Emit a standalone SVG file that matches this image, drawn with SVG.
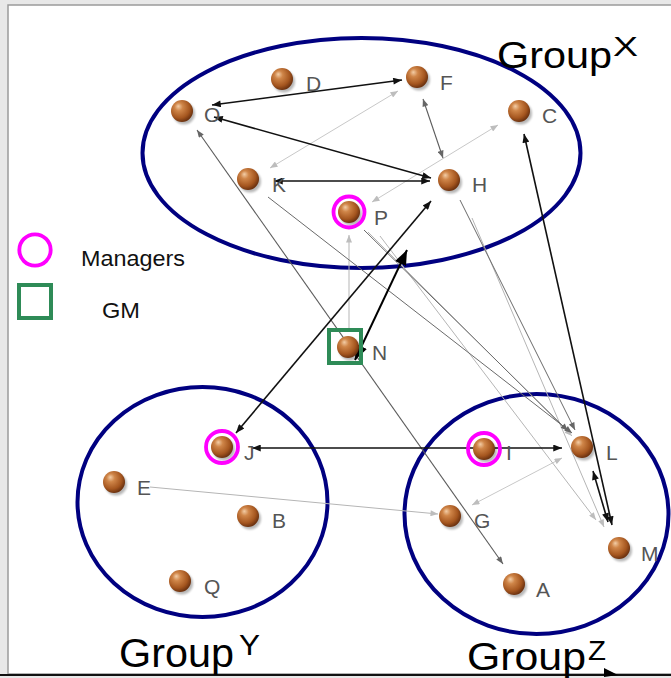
<svg xmlns="http://www.w3.org/2000/svg" xmlns:xlink="http://www.w3.org/1999/xlink" width="671" height="678" viewBox="0 0 671 678">
  <style>
    .lbl { font-family: "Liberation Sans", Arial, sans-serif; font-size: 21px; fill: #555; }
    .grp { font-family: "Liberation Sans", Arial, sans-serif; fill: #000; }
    .leg { font-family: "Liberation Sans", Arial, sans-serif; font-size: 22px; fill: #111; }
    .hull { fill: none; stroke: #000080; stroke-width: 4; }
    .mgr { fill: none; stroke: #ff00ff; stroke-width: 3.8; }
    .gm { fill: none; stroke: #2e8b57; stroke-width: 4; }
    .blk { stroke: #111; stroke-width: 1.6; fill: none; marker-start: url(#ahK); marker-end: url(#ahK); }
    .big { stroke: #000; stroke-width: 2; fill: none; marker-start: url(#ahB); marker-end: url(#ahB); }
    .dg { stroke: #5c5c5c; stroke-width: 1.1; fill: none; marker-start: url(#ahG); marker-end: url(#ahG); }
    .dg1 { stroke: #6a6a6a; stroke-width: 1; fill: none; marker-end: url(#ahG); }
    .lg { stroke: #b5b5b5; stroke-width: 1; fill: none; marker-end: url(#ahL); }
    .lg2 { stroke: #c8c8c8; stroke-width: 1; fill: none; marker-start: url(#ahL); marker-end: url(#ahL); }
  </style>
  <defs>
    <radialGradient id="ballFill" cx="0.4" cy="0.38" r="0.62" fx="0.33" fy="0.28">
      <stop offset="0" stop-color="#f3cda6"/>
      <stop offset="0.3" stop-color="#cf8548"/>
      <stop offset="0.75" stop-color="#a5561f"/>
      <stop offset="1" stop-color="#6e3310"/>
    </radialGradient>
    <filter id="soft" x="-50%" y="-50%" width="200%" height="200%">
      <feGaussianBlur stdDeviation="1.2"/>
    </filter>
    <g id="ball">
      <circle cx="2" cy="2.5" r="11" fill="#000" opacity="0.28" filter="url(#soft)"/>
      <circle cx="0" cy="0" r="11" fill="url(#ballFill)"/>
    </g>
    <marker id="ahK" viewBox="0 0 10 8" refX="10" refY="4" markerWidth="10" markerHeight="7" orient="auto-start-reverse" markerUnits="userSpaceOnUse">
      <path d="M0,0 L10,4 L0,8 z" fill="#111"/>
    </marker>
    <marker id="ahB" viewBox="0 0 10 8" refX="10" refY="4" markerWidth="15" markerHeight="12" orient="auto-start-reverse" markerUnits="userSpaceOnUse">
      <path d="M0,0 L10,4 L0,8 z" fill="#000"/>
    </marker>
    <marker id="ahG" viewBox="0 0 10 8" refX="10" refY="4" markerWidth="9" markerHeight="6" orient="auto-start-reverse" markerUnits="userSpaceOnUse">
      <path d="M0,0 L10,4 L0,8 z" fill="#666"/>
    </marker>
    <marker id="ahL" viewBox="0 0 10 8" refX="10" refY="4" markerWidth="9" markerHeight="6" orient="auto-start-reverse" markerUnits="userSpaceOnUse">
      <path d="M0,0 L10,4 L0,8 z" fill="#bdbdbd"/>
    </marker>
  </defs>

  <!-- canvas frame -->
  <rect x="0" y="0" width="671" height="678" fill="#e8e8e8"/>
  <rect x="8" y="5" width="680" height="669" fill="#fff" stroke="#9a9a9a" stroke-width="1.5"/>
  <line x1="0" y1="675" x2="671" y2="675" stroke="#111" stroke-width="2.2"/>
  <path d="M604,668 L618,675 L604,677 z" fill="#000"/>

  <!-- group hulls -->
  <g id="hulls">
    <ellipse class="hull" cx="361.5" cy="153" rx="219" ry="115"/>
    <ellipse class="hull" cx="202.5" cy="502" rx="125" ry="115"/>
    <ellipse class="hull" cx="536.5" cy="514" rx="132" ry="120"/>
  </g>

  <!-- ties -->
  <g id="connectors">
    <!-- faint ties -->
    <line class="lg2" x1="398" y1="91" x2="270" y2="168"/>
    <line class="lg2" x1="498" y1="125" x2="372" y2="202"/>
    <line class="lg" x1="349" y1="330" x2="349" y2="235"/>
    <line class="lg" x1="150" y1="487" x2="438" y2="514"/>
    <line class="lg2" x1="562" y1="458" x2="472" y2="505"/>
    <line class="lg" x1="368" y1="232" x2="572" y2="436"/>
    <line class="lg" x1="472" y1="218" x2="604" y2="527"/>
    <line class="lg" x1="380" y1="236" x2="596" y2="520"/>
    <!-- mid-grey ties -->
    <line class="dg" x1="423" y1="99" x2="443" y2="158"/>
    <line class="dg" x1="197" y1="130" x2="503" y2="564"/>
    <line class="dg1" x1="268" y1="197" x2="572" y2="433"/>
    <line class="dg1" x1="364" y1="230" x2="568" y2="431"/>
    <line class="dg1" x1="460" y1="200" x2="575" y2="430"/>
    <!-- strong ties -->
    <line class="blk" x1="212" y1="105" x2="402" y2="80"/>
    <line class="blk" x1="214" y1="117" x2="431" y2="178"/>
    <line class="blk" x1="274" y1="181" x2="430" y2="181"/>
    <line class="blk" x1="431" y1="201" x2="236" y2="433"/>
    <line class="blk" x1="524" y1="134" x2="612" y2="525"/>
    <line class="blk" x1="593" y1="471" x2="608" y2="522"/>
    <line class="blk" x1="252" y1="448" x2="562" y2="448"/>
    <line class="big" x1="355" y1="360" x2="407" y2="250"/>
  </g>

  <!-- actors -->
  <g id="node-D"><use href="#ball" x="282" y="79"/><text class="lbl" x="306" y="91">D</text></g>
  <g id="node-F"><use href="#ball" x="417" y="77"/><text class="lbl" x="440" y="90">F</text></g>
  <g id="node-O"><use href="#ball" x="182" y="111"/><text class="lbl" x="204" y="122">O</text></g>
  <g id="node-C"><use href="#ball" x="519" y="111"/><text class="lbl" x="542" y="123">C</text></g>
  <g id="node-K"><use href="#ball" x="248" y="179"/><text class="lbl" x="272" y="192">K</text></g>
  <g id="node-H"><use href="#ball" x="449" y="180"/><text class="lbl" x="472" y="192">H</text></g>
  <g id="node-P"><use href="#ball" x="349" y="212"/><circle class="mgr" cx="349" cy="212" r="15.5"/><text class="lbl" x="374" y="225">P</text></g>
  <g id="node-N"><use href="#ball" x="348" y="347"/><rect class="gm" x="329" y="330" width="32" height="33"/><text class="lbl" x="372" y="360">N</text></g>
  <g id="node-J"><use href="#ball" x="222" y="447"/><circle class="mgr" cx="222" cy="447" r="16"/><text class="lbl" x="244" y="460">J</text></g>
  <g id="node-E"><use href="#ball" x="114" y="482"/><text class="lbl" x="137" y="495">E</text></g>
  <g id="node-B"><use href="#ball" x="248" y="516"/><text class="lbl" x="272" y="528">B</text></g>
  <g id="node-Q"><use href="#ball" x="180" y="581"/><text class="lbl" x="204" y="594">Q</text></g>
  <g id="node-I"><use href="#ball" x="484" y="449"/><circle class="mgr" cx="484" cy="449" r="16"/><text class="lbl" x="506" y="460">I</text></g>
  <g id="node-L"><use href="#ball" x="582" y="447"/><text class="lbl" x="606" y="460">L</text></g>
  <g id="node-G"><use href="#ball" x="450" y="516"/><text class="lbl" x="474" y="528">G</text></g>
  <g id="node-M"><use href="#ball" x="619" y="548"/><text class="lbl" x="641" y="561">M</text></g>
  <g id="node-A"><use href="#ball" x="514" y="584"/><text class="lbl" x="536" y="597">A</text></g>

  <!-- group titles -->
  <g id="title-X">
    <text class="grp" x="497" y="68" font-size="37" textLength="115" lengthAdjust="spacingAndGlyphs">Group</text>
    <text class="grp" x="613" y="56" font-size="27" textLength="25" lengthAdjust="spacingAndGlyphs">X</text>
  </g>
  <g id="title-Y">
    <text class="grp" x="119" y="667" font-size="40" textLength="115" lengthAdjust="spacingAndGlyphs">Group</text>
    <text class="grp" x="239" y="655" font-size="29" textLength="21" lengthAdjust="spacingAndGlyphs">Y</text>
  </g>
  <g id="title-Z">
    <text class="grp" x="467" y="670" font-size="38" textLength="119" lengthAdjust="spacingAndGlyphs">Group</text>
    <text class="grp" x="588" y="660" font-size="28" textLength="18" lengthAdjust="spacingAndGlyphs">Z</text>
  </g>

  <!-- legend -->
  <g id="legend">
    <circle class="mgr" cx="35" cy="250" r="15.7"/>
    <text class="leg" x="81" y="266" textLength="104" lengthAdjust="spacingAndGlyphs">Managers</text>
    <rect class="gm" x="19" y="285" width="32" height="33"/>
    <text class="leg" x="102" y="318" textLength="38" lengthAdjust="spacingAndGlyphs">GM</text>
  </g>
</svg>
